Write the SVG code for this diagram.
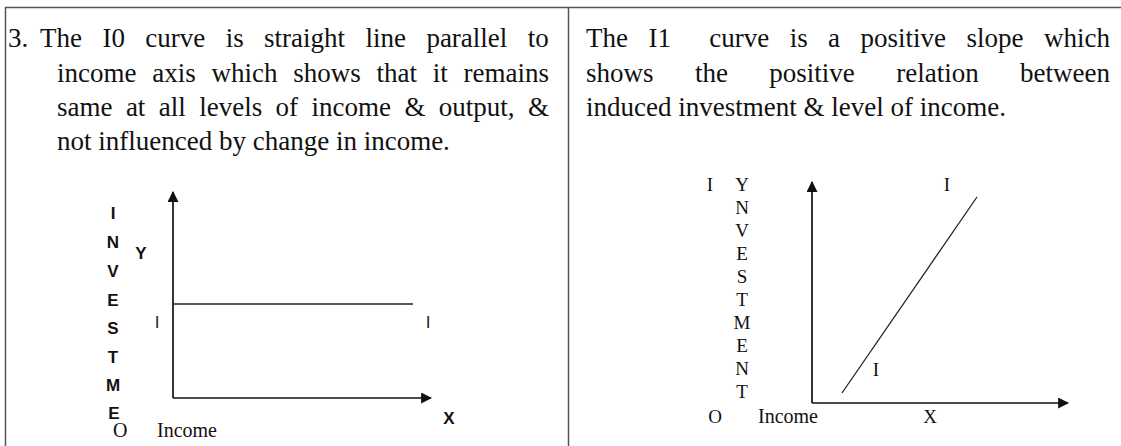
<svg xmlns="http://www.w3.org/2000/svg" width="1121" height="446" viewBox="0 0 1121 446">
<style>
.body{font-family:"Liberation Serif","Times New Roman",serif;font-size:27px;fill:#111}
.sb{font-family:"Liberation Sans",Arial,sans-serif;font-weight:bold;font-size:17px;fill:#111;text-anchor:middle}
.sr{font-family:"Liberation Sans",Arial,sans-serif;font-size:17px;fill:#222;text-anchor:middle}
.ser{font-family:"Liberation Serif","Times New Roman",serif;font-size:20px;fill:#111}
.serc{font-family:"Liberation Serif","Times New Roman",serif;font-size:19px;fill:#111;text-anchor:middle}
.axis{stroke:#111;stroke-width:1.7;fill:none}
.curve{stroke:#222;stroke-width:1.3;fill:none}
.rule{stroke:#555;stroke-width:1.5}
</style>
<defs>
<marker id="arr" viewBox="0 0 10 10" refX="9" refY="5" markerWidth="11" markerHeight="11" orient="auto" markerUnits="userSpaceOnUse">
<path d="M0,0 L10,5 L0,10 Z" fill="#111"/>
</marker>
</defs>
<rect width="1121" height="446" fill="#fff"/>
<g id="table">
<line class="rule" x1="5" y1="7.5" x2="1121" y2="7.5"/>
<line class="rule" x1="5.5" y1="7" x2="5.5" y2="446" stroke="#222"/>
<line class="rule" x1="568.5" y1="7" x2="568.5" y2="446" stroke="#222"/>
</g>
<g id="text-left" class="body">
<text y="47"><tspan x="8">3.</tspan><tspan x="40">The</tspan><tspan x="102.4">I0</tspan><tspan x="145.3">curve</tspan><tspan x="225.7">is</tspan><tspan x="264.1">straight</tspan><tspan x="365.5">line</tspan><tspan x="426.4">parallel</tspan><tspan x="527.8">to</tspan></text>
<text y="82"><tspan x="57">income</tspan><tspan x="152.2">axis</tspan><tspan x="211.5">which</tspan><tspan x="293.2">shows</tspan><tspan x="376.5">that</tspan><tspan x="432.7">it</tspan><tspan x="463.5">remains</tspan></text>
<text y="116"><tspan x="57">same</tspan><tspan x="125.9">at</tspan><tspan x="158.8">all</tspan><tspan x="199.2">levels</tspan><tspan x="275.6">of</tspan><tspan x="311.5">income</tspan><tspan x="404.4">&amp;</tspan><tspan x="438.8">output,</tspan><tspan x="528">&amp;</tspan></text>
<text x="57" y="150">not influenced by change in income.</text>
</g>
<g id="text-right" class="body">
<text y="47"><tspan x="586">The</tspan><tspan x="648.4">I1</tspan><tspan x="709.3">curve</tspan><tspan x="789.7">is</tspan><tspan x="828.1">a</tspan><tspan x="860.5">positive</tspan><tspan x="966.4">slope</tspan><tspan x="1044">which</tspan></text>
<text y="82"><tspan x="586">shows</tspan><tspan x="694.9">the</tspan><tspan x="769.3">positive</tspan><tspan x="896.2">relation</tspan><tspan x="1020">between</tspan></text>
<text x="586" y="116">induced investment &amp; level of income.</text>
</g>
<g id="graph-left">
<g id="connectors-left">
<line class="axis" x1="173" y1="398" x2="173" y2="192" marker-end="url(#arr)"/>
<line class="axis" x1="173" y1="398" x2="431" y2="398" marker-end="url(#arr)"/>
<line class="curve" x1="173" y1="304" x2="413" y2="304"/>
</g>
<g id="labels-left">
<text class="sb" x="113" y="219">I</text>
<text class="sb" x="113" y="248">N</text>
<text class="sb" x="113" y="277">V</text>
<text class="sb" x="113" y="306">E</text>
<text class="sb" x="113" y="334">S</text>
<text class="sb" x="113" y="363">T</text>
<text class="sb" x="113" y="391">M</text>
<text class="sb" x="114" y="419">E</text>
<text class="sb" x="141" y="259" font-size="20">Y</text>
<text class="sr" x="157" y="328">I</text>
<text class="sr" x="428" y="328">I</text>
<text class="sb" x="449" y="424" font-size="20">X</text>
<text class="ser" x="113" y="437">O</text>
<text class="ser" x="157" y="437">Income</text>
</g>
</g>
<g id="graph-right">
<g id="connectors-right">
<line class="axis" x1="812" y1="403" x2="812" y2="182" marker-end="url(#arr)"/>
<line class="axis" x1="812" y1="403" x2="1068" y2="403" marker-end="url(#arr)"/>
<line class="curve" x1="842" y1="393" x2="977" y2="197"/>
</g>
<g id="labels-right">
<text class="serc" x="710" y="191">I</text>
<text class="serc" x="742" y="191">Y</text>
<text class="serc" x="742" y="214">N</text>
<text class="serc" x="742" y="237">V</text>
<text class="serc" x="742" y="260">E</text>
<text class="serc" x="742" y="283">S</text>
<text class="serc" x="742" y="306">T</text>
<text class="serc" x="742" y="329">M</text>
<text class="serc" x="742" y="352">E</text>
<text class="serc" x="742" y="375">N</text>
<text class="serc" x="742" y="398">T</text>
<text class="serc" x="947" y="191">I</text>
<text class="serc" x="876" y="376">I</text>
<text class="serc" x="715" y="423">O</text>
<text class="serc" x="930" y="423">X</text>
<text class="ser" x="758" y="423">Income</text>
</g>
</g>
</svg>
